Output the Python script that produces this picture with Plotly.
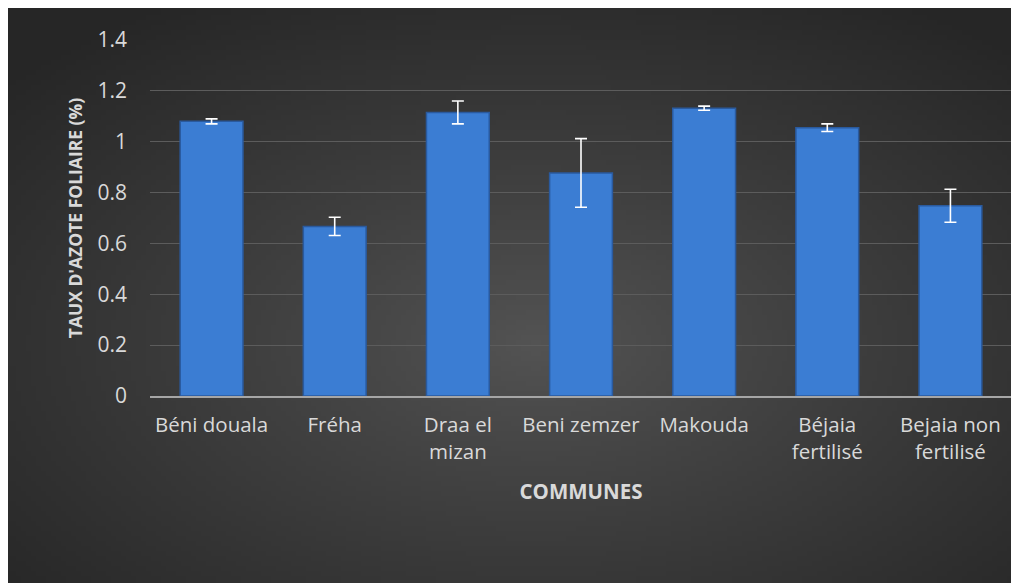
import base64, struct, zlib
import numpy as np
import plotly.graph_objects as go

categories = ["Béni douala", "Fréha", "Draa el<br>mizan", "Beni zemzer", "Makouda",
              "Béjaia<br>fertilisé", "Bejaia non<br>fertilisé"]
values = [1.08, 0.667, 1.115, 0.877, 1.132, 1.055, 0.748]
errors = [0.010, 0.036, 0.045, 0.135, 0.008, 0.015, 0.065]
y_ticks = [0, 0.2, 0.4, 0.6, 0.8, 1.0, 1.2, 1.4]
y_ticklabels = ["0", "0.2", "0.4", "0.6", "0.8", "1", "1.2", "1.4"]

# plot area placement (page: body margin 8px, plot area 150..1012 x 40..396)
FIG_W, FIG_H = 1030, 590
L, T = 142, 32
PW, PH = 862, 356
R, B = FIG_W - L - PW, FIG_H - T - PH

# --- radial gradient background image (styling only), visible part 1011x575 ---
W, H = 202, 115
yy, xx = np.mgrid[0:H, 0:W]
cx, cy = W * 0.52, H * 0.58
d = np.sqrt(((xx - cx) / (W / 2)) ** 2 + ((yy - cy) / (H / 2)) ** 2) / np.sqrt(2)
d = np.clip(d, 0, 1)
g = (0x54 - (0x54 - 0x26) * d ** 0.9).astype(np.uint8)
raw = b"".join(b"\x00" + g[r].tobytes() for r in range(H))
def chunk(t, data):
    c = struct.pack(">I", len(data)) + t + data
    return c + struct.pack(">I", zlib.crc32(t + data) & 0xffffffff)
png = (b"\x89PNG\r\n\x1a\n" + chunk(b"IHDR", struct.pack(">IIBBBBB", W, H, 8, 0, 0, 0, 0))
       + chunk(b"IDAT", zlib.compress(raw, 9)) + chunk(b"IEND", b""))
bg_uri = "data:image/png;base64," + base64.b64encode(png).decode()

VIS_W, VIS_H = 1011, 575
x0 = -L / PW
x1 = (VIS_W - L) / PW
y1 = (PH + T) / PH
y0 = (PH + T - VIS_H) / PH

font_family = "Open Sans"
txt = "#d9d9d9"

fig = go.Figure()
fig.add_trace(go.Bar(
    x=categories, y=values,
    marker=dict(color="#3b7dd3", line=dict(color="#2a5a9e", width=1.5)),
    error_y=dict(type="data", array=errors, visible=True, color="#ffffff",
                 thickness=1.6, width=6),
    width=0.51,
))

fig.update_layout(
    width=FIG_W, height=FIG_H,
    margin=dict(l=L, r=R, t=T, b=B, pad=0),
    paper_bgcolor="#262626",
    plot_bgcolor="rgba(0,0,0,0)",
    showlegend=False,
    font=dict(family=font_family, color=txt, size=20),
    images=[dict(source=bg_uri, xref="paper", yref="paper", x=x0, y=y1,
                 sizex=x1 - x0, sizey=y1 - y0, sizing="stretch",
                 xanchor="left", yanchor="top", layer="below")],
    xaxis=dict(
        showgrid=False, showline=True, linecolor="#a6a6a6", linewidth=1.5,
        ticks="", tickfont=dict(size=20.5, color=txt), ticklabelstandoff=10,
        title=dict(text="<b>COMMUNES</b>", font=dict(size=20.5, color=txt), standoff=21),
    ),
    yaxis=dict(
        range=[0, 1.4], tickvals=y_ticks, ticktext=y_ticklabels,
        showgrid=True, gridcolor="#5c5c5c", gridwidth=1, zeroline=False,
        ticks="", tickfont=dict(size=21, color=txt), ticklabelstandoff=22,
        title=dict(text="<b>TAUX D'AZOTE FOLIAIRE (%)</b>", font=dict(size=17.5, color=txt),
                   standoff=10),
    ),
)

fig.write_html(
    "out.html",
    post_script="document.documentElement.style.overflow='hidden';"
                "document.body.style.overflow='hidden';",
)
